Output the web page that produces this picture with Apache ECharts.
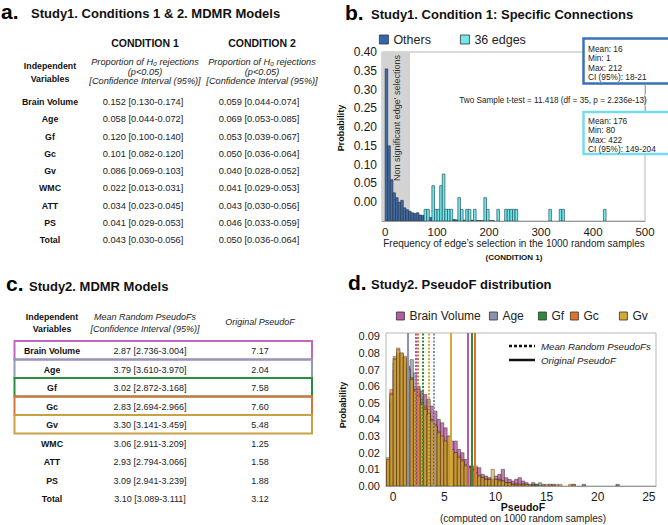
<!DOCTYPE html>
<html><head><meta charset="utf-8">
<script src="https://cdn.jsdelivr.net/npm/echarts@6/dist/echarts.min.js"></script>
<style>html,body{margin:0;padding:0;background:#fff}#c{width:668px;height:525px}</style>
</head><body><div id="c"></div>
<script>
// ---------------- DATA ----------------
// Panel a
const tableVars = ['Brain Volume','Age','Gf','Gc','Gv','WMC','ATT','PS','Total'];
const cond1Prop = [0.152,0.058,0.120,0.101,0.086,0.022,0.034,0.041,0.043];
const cond1Low  = [0.130,0.044,0.100,0.082,0.069,0.013,0.023,0.029,0.030];
const cond1High = [0.174,0.072,0.140,0.120,0.103,0.031,0.045,0.053,0.056];
const cond2Prop = [0.059,0.069,0.053,0.050,0.040,0.041,0.043,0.046,0.050];
const cond2Low  = [0.044,0.053,0.039,0.036,0.028,0.029,0.030,0.033,0.036];
const cond2High = [0.074,0.085,0.067,0.064,0.052,0.053,0.056,0.059,0.064];
// Panel c
const meanPseudoF     = [2.87,3.79,3.02,2.83,3.30,3.06,2.93,3.09,3.10];
const meanPseudoFLow  = [2.736,3.610,2.872,2.694,3.141,2.911,2.794,2.941,3.089];
const meanPseudoFHigh = [3.004,3.970,3.168,2.966,3.459,3.209,3.066,3.239,3.111];
const originalPseudoF = [7.17,2.04,7.58,7.60,5.48,1.25,1.58,1.88,3.12];
// Panel b
const edgeBinWidth = 5;
const othersProb = [0.405,0.2,0.11,0.075,0.062,0.05,0.055,0.035,0.03,0.026,0.022,0.02,0.022,0.016,0.015,0.012,0.011,0.009,0.01,0.008,0.007,0.006,0.006,0.005,0.005,0.004,0.004,0.003,0.003,0.003,0.002,0.002,0.002,0.002,0.001,0.001,0.001,0.001,0.001,0.001,0.001,0.001];
const edgesBinStart = [75,80,90,95,100,105,110,115,120,125,140,145,155,160,170,190,195,215,230,235,240,245,250,315,335,340,420];
const edgesProb = [0.031,0.031,0.094,0.031,0.031,0.094,0.125,0.031,0.031,0.031,0.062,0.031,0.031,0.031,0.031,0.062,0.031,0.031,0.031,0.031,0.031,0.031,0.031,0.031,0.031,0.031,0.031];
const nonSignificantMax = 48;
const bXTicks = [0,100,200,300,400,500];
const othersStats = ['Mean: 16','Min: 1','Max: 212','CI (95%): 18-21'];
const edgesStats = ['Mean: 176','Min: 80','Max: 422','CI (95%): 149-204'];
const tTestText = 'Two Sample t-test = 11.418 (df = 35, p = 2.236e-13)';
// Panel d
const dVars = ['Brain Volume','Age','Gf','Gc','Gv'];
const dColors = ['#b45aa6','#8a93ad','#2e8b3b','#e2722c','#d6a935'];
const dBinStart = -0.66, dBinWidth = 0.33;
const pfBrainVolume = [0.016,0.05,0.07,0.075,0.072,0.07,0.066,0.062,0.06,0.06,
  0.057,0.055,0.052,0.048,0.045,0.040,0.038,0.035,0.030,0.027,
  0.027,0.022,0.020,0.016,0.012,0.010,0.011,0.011,0.007,0.006,
  0.005,0.004,0.006,0.007,0.010,0.005,0.004,0.003,0.004,0.005,
  0.003,0.002,0.001,0.002,0.001,0,0.001,0,0,0.001,
  0,0,0,0,0,0.001,0,0,0.001,0,
  0,0,0,0,0,0,0,0,0.001];
const pfAge = [0.012,0.052,0.074,0.079,0.077,0.074,0.072,0.076,0.068,0.058,
  0.052,0.047,0.043,0.038,0.034,0.030,0.027,0.024,0.021,0.018,
  0.016,0.014,0.012,0.010,0.009,0.008,0.006,0.005,0.004,0.004,
  0.003,0.003,0.002,0.002,0.002,0.001,0.001,0.001,0.001,0,0.001];
const pfGf = [0.015,0.056,0.077,0.080,0.079,0.076,0.070,0.065,0.058,0.054,
  0.050,0.047,0.044,0.040,0.036,0.032,0.029,0.026,0.024,0.021,
  0.019,0.017,0.015,0.012,0.012,0.012,0.008,0.006,0.005,0.004,
  0.004,0.003,0.004,0.004,0.003,0.002,0.002,0.001,0.001,0.001,
  0.001,0,0,0.001,0.001,0.002,0,0,0.001,0];
const pfGc = [0.017,0.058,0.078,0.083,0.080,0.078,0.071,0.065,0.058,0.055,
  0.050,0.048,0.045,0.040,0.037,0.033,0.030,0.027,0.025,0.022,
  0.020,0.018,0.016,0.013,0.011,0.010,0.012,0.006,0.005,0.004,
  0.004,0.004,0.004,0.004,0.003,0.002,0.002,0.001,0.001,0.001,
  0.001,0.001,0,0,0,0,0,0.001,0,0,0.001,0];
const pfGv = [0.016,0.055,0.076,0.082,0.080,0.077,0.070,0.064,0.057,0.054,
  0.049,0.046,0.043,0.039,0.036,0.032,0.030,0.027,0.030,0.022,
  0.020,0.017,0.015,0.012,0.011,0.009,0.008,0.006,0.005,0.004,
  0.004,0.010,0.004,0.003,0.003,0.002,0.002,0.001,0.001,0.001,
  0.001,0.001,0,0,0,0,0,0,0.001,0,0,0.001,0,0,0.001,0.001];
const dSeriesData = [pfBrainVolume, pfAge, pfGf, pfGc, pfGv];
const meanLineX = [2.2, 4.0, 2.9, 2.4, 3.5];      // dotted lines as drawn
const origLineX = [7.3, 1.45, 7.7, 8.0, 5.65];    // solid lines as drawn
const dXTicks = [0,5,10,15,20,25];

// ---------------- HELPERS ----------------
const FF = '"Liberation Sans", Arial, Helvetica, sans-serif';
const f3 = v => v.toFixed(3), f2 = v => v.toFixed(2);
function txt(x, y, text, o, extra) {
  return Object.assign({type:'text', x, y, silent:true, z:100,
    style: Object.assign({text, fill:'#111', fontFamily:FF, fontSize:9.3, align:'center', verticalAlign:'middle'}, o || {})}, extra || {});
}
function histRender(binW, fill, stroke, opacity, lw) {
  return function (params, api) {
    const x0 = api.value(0), v = api.value(1);
    if (!v) return null;
    const a = api.coord([x0, 0]), b = api.coord([x0 + binW, v]);
    return {type:'rect', shape:{x:a[0], y:b[1], width:b[0]-a[0], height:a[1]-b[1]},
      style:{fill, stroke, lineWidth: lw, opacity}};
  };
}

const G = [];
// Titles
function title(letterX, letterY, letter, tx, ty, t) {
  G.push(txt(letterX, letterY, letter, {fontSize:21, fontWeight:'bold', align:'left', fill:'#000'}));
  G.push(txt(tx, ty, t, {fontSize:13, fontWeight:'bold', align:'left', fill:'#111'}));
}
title(1, 11.5, 'a.', 31, 13.5, 'Study1. Conditions 1 & 2. MDMR Models');
title(345, 12.5, 'b.', 371, 14.5, 'Study1. Condition 1: Specific Connections');
title(6, 283, 'c.', 29, 286, 'Study2. MDMR Models');
title(348, 282, 'd.', 371, 284.5, 'Study2. PseudoF distribution');

// Table a
G.push(txt(145, 43, 'CONDITION 1', {fontWeight:'bold', fontSize:10.5}));
G.push(txt(262, 43, 'CONDITION 2', {fontWeight:'bold', fontSize:10.5}));
G.push(txt(50, 66, 'Independent', {fontWeight:'bold', fontSize:8.8}));
G.push(txt(50, 79, 'Variables', {fontWeight:'bold', fontSize:8.8}));
[145, 262].forEach(cx => {
  G.push(txt(cx, 62, 'Proportion of H\u2080 rejections', {fontStyle:'italic', fontSize:9.2, fill:'#222'}));
  G.push(txt(cx, 71.5, '(p<0.05)', {fontStyle:'italic', fontSize:9.2, fill:'#222'}));
  G.push(txt(cx, 81, '[Confidence Interval (95%)]', {fontStyle:'italic', fontSize:9.2, fill:'#222'}));
});
tableVars.forEach((v, i) => {
  const y = 102 + 17.25 * i;
  G.push(txt(50, y, v, {fontWeight:'bold', fontSize:8.8}));
  G.push(txt(143, y, f3(cond1Prop[i]) + ' [' + f3(cond1Low[i]) + '-' + f3(cond1High[i]) + ']', {fill:'#222'}));
  G.push(txt(259, y, f3(cond2Prop[i]) + ' [' + f3(cond2Low[i]) + '-' + f3(cond2High[i]) + ']', {fill:'#222'}));
});

// Table c
const boxColors = ['#c466bb','#8e9bb8','#2a8f3c','#d9733a','#c9a142'];
G.push(txt(52, 317, 'Independent', {fontWeight:'bold', fontSize:8.8}));
G.push(txt(52, 328.5, 'Variables', {fontWeight:'bold', fontSize:8.8}));
G.push(txt(145, 317, 'Mean Random PseudoFs', {fontStyle:'italic', fontSize:9, fill:'#222'}));
G.push(txt(145, 328.5, '[Confidence Interval (95%)]', {fontStyle:'italic', fontSize:9, fill:'#222'}));
G.push(txt(260, 322, 'Original PseudoF', {fontStyle:'italic', fontSize:9, fill:'#222'}));
tableVars.forEach((v, i) => {
  const y = 351 + 18.5 * i;
  if (i < boxColors.length) {
    G.push({type:'rect', silent:true, z:90, shape:{x:14.5, y:y - 10, width:297.5, height:18.5},
      style:{fill:'none', stroke:boxColors[i], lineWidth:2}});
  }
  G.push(txt(52, y, v, {fontWeight:'bold', fontSize:8.8}));
  G.push(txt(150, y, f2(meanPseudoF[i]) + ' [' + f3(meanPseudoFLow[i]) + '-' + f3(meanPseudoFHigh[i]) + ']', {fontSize:9, fill:'#222'}));
  G.push(txt(260, y, f2(originalPseudoF[i]), {fontSize:9, fill:'#222'}));
});

// Panel b annotations
G.push({type:'rect', silent:true, z:95, shape:{x:583.5, y:38.5, width:90, height:45}, style:{fill:'#fff', stroke:'#3a72b8', lineWidth:2.5}});
G.push({type:'rect', silent:true, z:95, shape:{x:583.5, y:112, width:90, height:42}, style:{fill:'#fff', stroke:'#74dcee', lineWidth:2.5}});
othersStats.forEach((s, i) => G.push(txt(588, 48.5 + 9.6 * i, s, {fontSize:8.3, align:'left', fill:'#222'})));
edgesStats.forEach((s, i) => G.push(txt(588, 120.5 + 9.6 * i, s, {fontSize:8.3, align:'left', fill:'#222'})));
G.push({type:'line', silent:true, z:95, shape:{x1:645.5, y1:84, x2:645.5, y2:94}, style:{stroke:'#aaa', lineWidth:1}});
G.push({type:'line', silent:true, z:95, shape:{x1:645.5, y1:106, x2:645.5, y2:111}, style:{stroke:'#aaa', lineWidth:1}});
G.push(txt(553, 100, tTestText, {fontSize:8.2, fill:'#222'}));
G.push(txt(397, 118, "Non significant edge' selections", {fontSize:9, fill:'#333'}, {rotation: Math.PI / 2}));
G.push(txt(341, 128, 'Probability', {fontSize:9, fontWeight:'bold'}, {rotation: Math.PI / 2}));
G.push(txt(514, 243, "Frequency of edge\u2019s selection in the 1000 random samples", {fontSize:10, fill:'#222'}));
G.push(txt(514, 257, '(CONDITION 1)', {fontSize:8, fontWeight:'bold'}));

// Panel d annotations
G.push({type:'line', silent:true, z:95, shape:{x1:509, y1:346, x2:535, y2:346}, style:{stroke:'#111', lineWidth:2.5, lineDash:[3,2]}});
G.push({type:'line', silent:true, z:95, shape:{x1:509, y1:360, x2:535, y2:360}, style:{stroke:'#111', lineWidth:2.5}});
G.push(txt(541, 346, 'Mean Random PseudoFs', {fontSize:9.7, fontStyle:'italic', align:'left', fill:'#222'}));
G.push(txt(541, 360, 'Original PseudoF', {fontSize:9.7, fontStyle:'italic', align:'left', fill:'#222'}));
G.push(txt(343, 405, 'Probability', {fontSize:9, fontWeight:'bold'}, {rotation: Math.PI / 2}));
G.push(txt(523, 507, 'PseudoF', {fontSize:10.5, fontWeight:'bold'}));
G.push(txt(523, 518.5, '(computed on 1000 random samples)', {fontSize:10, fill:'#222'}));

// ---------------- SERIES ----------------
const series = [];
series.push({type:'custom', name:'band', xAxisIndex:0, yAxisIndex:1, z:1, silent:true, clip:true,
  data:[[-6, nonSignificantMax]],
  renderItem:(p, api) => {
    const a = api.coord([api.value(0), 0]), b = api.coord([api.value(1), 0.45]);
    return {type:'rect', shape:{x:a[0], y:b[1], width:b[0]-a[0], height:a[1]-b[1]}, style:{fill:'#d3d3d3'}};
  }});
series.push({type:'custom', name:'Others', xAxisIndex:0, yAxisIndex:1, z:3, clip:true,
  itemStyle:{color:'#3466ad', borderColor:'#1c3450', borderWidth:0.8},
  data: othersProb.map((v, i) => [i * edgeBinWidth, v]),
  renderItem: histRender(edgeBinWidth, '#44699c', '#1c3450', 1, 0.6)});
series.push({type:'custom', name:'36 edges', xAxisIndex:0, yAxisIndex:1, z:3, clip:true,
  itemStyle:{color:'#72e8ea', borderColor:'#1f5560', borderWidth:0.8},
  data: edgesBinStart.map((x, i) => [x, edgesProb[i]]),
  renderItem: histRender(edgeBinWidth, '#72e8ea', '#1f5560', 1, 0.7)});
const dOpacity = [0.8, 0.7, 0.6, 0.6, 0.65];
dVars.forEach((name, k) => {
  series.push({type:'custom', name, xAxisIndex:1, yAxisIndex:2, z:3 + k, clip:true,
    itemStyle:{color:dColors[k], borderColor:'#333', borderWidth:0.8},
    data: dSeriesData[k].map((v, i) => [dBinStart + i * dBinWidth, v]),
    renderItem: histRender(dBinWidth, dColors[k], '#3a2a1a', dOpacity[k], 0.6),
    markLine:{silent:true, symbol:'none', animation:false, label:{show:false}, z:20,
      data:[
        {xAxis: meanLineX[k], lineStyle:{color:dColors[k], width:2, type:[2,1.5]}},
        {xAxis: origLineX[k], lineStyle:{color:dColors[k], width:2, type:'solid'}}
      ]}
  });
});

const legendBase = {icon:'rect', itemWidth:8, itemHeight:8, selectedMode:false,
  itemStyle:{borderColor:'#333', borderWidth:0.8},
  textStyle:{fontFamily:FF, fontSize:12, color:'#222'}};
const legends = [
  Object.assign({}, legendBase, {left:374, top:28, data:['Others'], itemWidth:9, itemHeight:9, textStyle:{fontFamily:FF, fontSize:12.5, color:'#222'}}),
  Object.assign({}, legendBase, {left:455, top:28, data:['36 edges'], itemWidth:9, itemHeight:9, textStyle:{fontFamily:FF, fontSize:12.5, color:'#222'}})
];
const dLegendLeft = [391, 484, 533, 565, 614];
dVars.forEach((n, k) => legends.push(Object.assign({}, legendBase, {left:dLegendLeft[k], top:305, data:[n]})));

const axisLabelStyle = {fontFamily:FF, color:'#1a1a1a'};
const option = {
  animation:false,
  textStyle:{fontFamily:FF},
  grid:[
    {left:382, top:52, width:263, height:169, show:true, borderColor:'#b5b5b5', borderWidth:1, containLabel:false},
    {left:386, top:333, width:270, height:153, show:true, borderColor:'#b5b5b5', borderWidth:1, containLabel:false}
  ],
  legend: legends,
  xAxis:[
    {type:'value', gridIndex:0, min:-6, max:500, splitLine:{show:false},
      axisLine:{show:true, onZero:false, lineStyle:{color:'#999'}}, axisTick:{show:false},
      axisLabel:Object.assign({fontSize:11.5, margin:5, customValues:bXTicks}, axisLabelStyle)},
    {type:'value', gridIndex:1, min:-0.7, max:25.7, splitLine:{show:false},
      axisLine:{show:true, onZero:false, lineStyle:{color:'#999'}}, axisTick:{show:false},
      axisLabel:Object.assign({fontSize:12, margin:5, customValues:dXTicks}, axisLabelStyle)}
  ],
  yAxis:[
    {type:'value', gridIndex:0, min:-0.05, max:0.40, interval:0.05, splitLine:{show:false},
      axisLine:{show:false, onZero:false}, axisTick:{show:false},
      axisLabel:Object.assign({fontSize:12, margin:5, formatter:v => v < -0.001 ? '' : v.toFixed(2)}, axisLabelStyle)},
    {type:'value', gridIndex:0, min:0, max:0.45, show:false},
    {type:'value', gridIndex:1, min:0, max:0.092, interval:0.01, splitLine:{show:false},
      axisLine:{show:false, onZero:false}, axisTick:{show:false},
      axisLabel:Object.assign({fontSize:11, margin:6, formatter:v => Math.abs(v * 100 - Math.round(v * 100)) < 1e-6 ? v.toFixed(2) : ''}, axisLabelStyle)}
  ],
  series,
  graphic:{elements:G}
};
const chart = echarts.init(document.getElementById('c'), null, {renderer:'svg'});
chart.setOption(option);
</script>
</body></html>
